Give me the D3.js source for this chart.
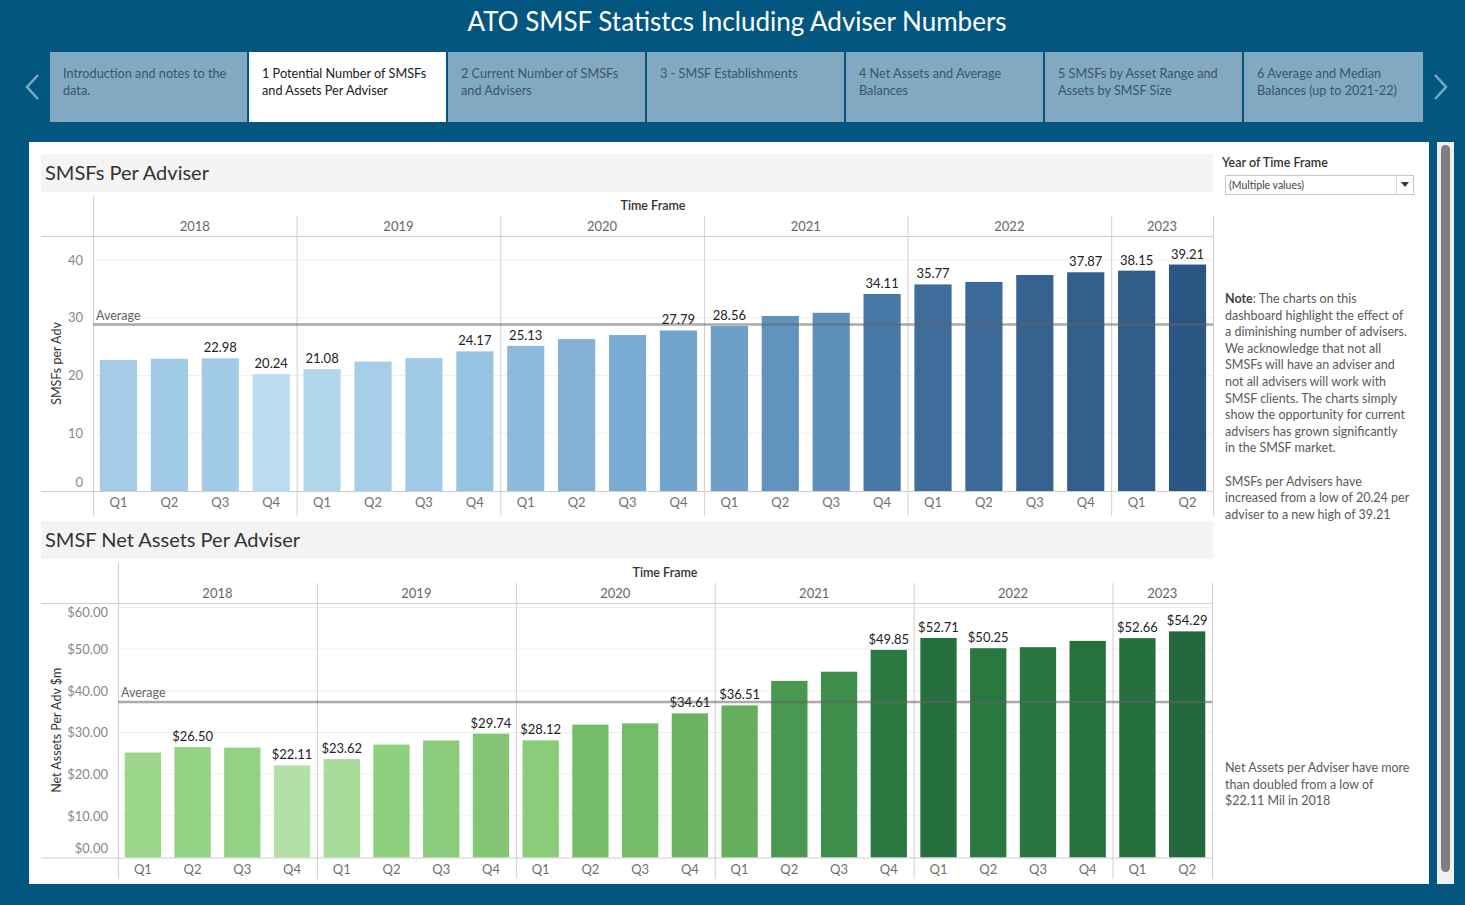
<!DOCTYPE html>
<html>
<head>
<meta charset="utf-8">
<script src="https://cdn.jsdelivr.net/npm/d3@7"></script>
<style>
  html,body{margin:0;padding:0;background:#03567f;}
  svg{display:block;font-family:Lato,"Open Sans",sans-serif;}
</style>
</head>
<body>
<svg id="chart" width="1465" height="905"></svg>
<script>
// ---------------- DATA ----------------
const periodYears = ['2018','2018','2018','2018','2019','2019','2019','2019','2020','2020','2020','2020',
                     '2021','2021','2021','2021','2022','2022','2022','2022','2023','2023'];
const periodQuarters = ['Q1','Q2','Q3','Q4','Q1','Q2','Q3','Q4','Q1','Q2','Q3','Q4',
                        'Q1','Q2','Q3','Q4','Q1','Q2','Q3','Q4','Q1','Q2'];
const yearLabels = ['2018','2019','2020','2021','2022','2023'];
const smsfsPerAdviser = [22.70,22.90,22.98,20.24, 21.08,22.40,23.00,24.17, 25.13,26.30,27.00,27.79,
                         28.56,30.30,30.85,34.11, 35.77,36.20,37.40,37.87, 38.15,39.21];
const netAssetsPerAdviser = [25.20,26.50,26.40,22.11, 23.62,27.10,28.10,29.74, 28.12,31.90,32.20,34.61,
                             36.51,42.40,44.60,49.85, 52.71,50.25,50.50,52.00, 52.66,54.29];
const smsfLabelShown =   [0,0,1,1, 1,0,0,1, 1,0,0,1, 1,0,0,1, 1,0,0,1, 1,1];
const assetsLabelShown = [0,1,0,1, 1,0,0,1, 1,0,0,1, 1,0,0,1, 1,1,0,0, 1,1];
const smsfTicks = [0,10,20,30,40];
const assetTicks = [0,10,20,30,40,50,60];
const tabLabels = [
  ['Introduction and notes to the','data.'],
  ['1 Potential Number of SMSFs','and Assets Per Adviser'],
  ['2 Current Number of SMSFs','and Advisers'],
  ['3 - SMSF Establishments'],
  ['4 Net Assets and Average','Balances'],
  ['5 SMSFs by Asset Range and','Assets by SMSF Size'],
  ['6 Average and Median','Balances (up to 2021-22)']
];
const noteLines = ['The charts on this','dashboard highlight the effect of','a diminishing number of advisers.',
  'We acknowledge that not all','SMSFs will have an adviser and','not all advisers will work with',
  'SMSF clients. The charts simply','show the opportunity for current','advisers has grown significantly',
  'in the SMSF market.','','SMSFs per Advisers have','increased from a low of 20.24 per','adviser to a new high of 39.21'];
const assetNoteLines = ['Net Assets per Adviser have more','than doubled from a low of','$22.11 Mil in 2018'];

// ---------------- PAGE ----------------
const svg = d3.select('#chart');
svg.append('rect').attr('width',1465).attr('height',905).attr('fill','#03567f');
svg.append('text').attr('x',737).attr('y',31).attr('text-anchor','middle')
  .attr('fill','#fff').attr('font-size',26).text('ATO SMSF Statistcs Including Adviser Numbers');

// tabs
const tabX = [50,249,448,647,846,1045,1244];
const tabW = [197,197,197,197,197,197,179];
tabLabels.forEach((lines,i)=>{
  const sel = i===1;
  svg.append('rect').attr('x',tabX[i]).attr('y',52).attr('width',tabW[i]).attr('height',70)
    .attr('fill', sel ? '#ffffff' : '#81a9c1');
  lines.forEach((t,j)=>{
    svg.append('text').attr('x',tabX[i]+13).attr('y',78+j*17).attr('font-size',12.7)
      .attr('fill', sel ? '#1a1a1a' : '#3f5566').text(t);
  });
});
svg.append('path').attr('d','M38,75 L27,87 L38,99').attr('fill','none').attr('stroke','#7fa7c0').attr('stroke-width',2.5);
svg.append('path').attr('d','M1435,75 L1446,87 L1435,99').attr('fill','none').attr('stroke','#7fa7c0').attr('stroke-width',2.5);

// main panel
svg.append('rect').attr('x',29).attr('y',142).attr('width',1400).attr('height',742).attr('fill','#fff');
// scrollbar
svg.append('rect').attr('x',1437).attr('y',142).attr('width',17).attr('height',742).attr('fill','#f0f0f0');
svg.append('rect').attr('x',1441).attr('y',145).attr('width',9).attr('height',727).attr('rx',4.5).attr('fill','#7f7f7f');

// right panel
svg.append('text').attr('x',1222).attr('y',167).attr('font-size',12.5).attr('font-weight',600).attr('fill','#333').text('Year of Time Frame');
svg.append('rect').attr('x',1225.5).attr('y',175.5).attr('width',188).attr('height',19).attr('fill','#fff').attr('stroke','#c8c8c8');
svg.append('line').attr('x1',1396.5).attr('x2',1396.5).attr('y1',176).attr('y2',194).attr('stroke','#dcdcdc');
svg.append('text').attr('x',1229).attr('y',189).attr('font-size',10.5).attr('fill','#444').text('(Multiple values)');
svg.append('path').attr('d','M1401,182 L1409,182 L1405,187 Z').attr('fill','#333');

const note = svg.append('g').attr('font-size',12.5).attr('fill','#5a5a5a');
const nt0 = note.append('text').attr('x',1225).attr('y',303);
nt0.append('tspan').attr('font-weight',700).attr('fill','#444').text('Note');
nt0.append('tspan').text(': ' + noteLines[0]);
noteLines.slice(1).forEach((t,i)=>{
  note.append('text').attr('x',1225).attr('y',303+(i+1)*16.6).text(t);
});
assetNoteLines.forEach((t,i)=>{
  note.append('text').attr('x',1225).attr('y',772+i*16.6).text(t);
});

// ---------------- CHARTS ----------------
const keys = periodYears.map((y,i)=>y+'-'+periodQuarters[i]);

function drawChart(o){
  const g = svg.append('g');
  // title band
  g.append('rect').attr('x',41).attr('y',o.bandTop).attr('width',1172).attr('height',38).attr('fill','#f4f4f4');
  g.append('text').attr('x',45).attr('y',o.bandTop+26).attr('font-size',20).attr('fill','#333').text(o.title);

  const x = d3.scaleBand().domain(keys).range([o.left,o.right]).paddingInner(0.27).paddingOuter(0.135);
  const y = d3.scaleLinear().domain([0,o.ymax]).range([o.base,o.top]);
  const step = x.step();

  const color = d3.scaleLinear().domain(o.colorDomain).range(o.colorRange).interpolate(d3.interpolateRgb);
  const rows = o.values.map((v,i)=>({key:keys[i], v, show:!!o.shown[i]}));

  // gridlines
  g.selectAll('.grid').data(o.ticks.filter(t=>t>0)).join('line')
    .attr('x1',o.left).attr('x2',o.right).attr('y1',d=>y(d)).attr('y2',d=>y(d))
    .attr('stroke','#efefef').attr('stroke-width',1);

  // header
  g.append('text').attr('x',o.tfX).attr('y',o.top-26).attr('text-anchor','middle').attr('font-size',12.5)
    .attr('font-weight',600).attr('fill','#333').text('Time Frame');

  // year groups
  let start = 0;
  const yearPos = yearLabels.map(yr=>{
    const n = periodYears.filter(v=>v===yr).length;
    const x0 = o.left + start*step, x1 = o.left + (start+n)*step;
    start += n;
    return {yr,x0,x1};
  });
  g.selectAll('.yl').data(yearPos).join('text')
    .attr('x',d=>(d.x0+d.x1)/2).attr('y',o.top-5).attr('text-anchor','middle')
    .attr('font-size',13).attr('fill','#666').text(d=>d.yr);

  // bars
  g.selectAll('.bar').data(rows).join('rect')
    .attr('x',d=>x(d.key)).attr('width',x.bandwidth())
    .attr('y',d=>y(d.v)).attr('height',d=>o.base-y(d.v)).attr('fill',d=>color(d.v));

  // structural lines
  const lineC = '#cfcfcf';
  g.append('line').attr('x1',41).attr('x2',o.right).attr('y1',o.top+0.5).attr('y2',o.top+0.5).attr('stroke',lineC);
  g.append('line').attr('x1',41).attr('x2',o.right).attr('y1',o.base+0.5).attr('y2',o.base+0.5).attr('stroke',lineC);
  g.append('line').attr('x1',o.left+0.5).attr('x2',o.left+0.5).attr('y1',o.top-40).attr('y2',o.bottom).attr('stroke',lineC);
  yearPos.forEach(d=>{
    g.append('line').attr('x1',d.x1+0.5).attr('x2',d.x1+0.5).attr('y1',o.top-20).attr('y2',o.bottom).attr('stroke',lineC);
  });
  // tiny quarter ticks
  keys.forEach((k,i)=>{
    if(i>0 && periodQuarters[i]!=='Q1'){
      const xx = o.left + i*step;
      g.append('line').attr('x1',xx).attr('x2',xx).attr('y1',o.base+1).attr('y2',o.base+4).attr('stroke','#eee');
    }
  });

  // quarter labels
  g.selectAll('.ql').data(rows).join('text')
    .attr('x',d=>x(d.key)+x.bandwidth()/2).attr('y',o.base+16).attr('text-anchor','middle')
    .attr('font-size',13).attr('fill','#707070').text((d,i)=>periodQuarters[i]);

  // y axis
  const ax = g.append('g').attr('transform',`translate(${o.left-7},0)`)
    .call(d3.axisLeft(y).tickValues(o.ticks).tickSize(0).tickFormat(o.fmt));
  ax.select('.domain').remove();
  ax.selectAll('text').attr('font-size',13).attr('fill','#888').attr('font-family','Lato,"Open Sans",sans-serif')
    .attr('dy',d=> d===0 ? '-0.35em' : (d===o.ticks[o.ticks.length-1] && o.shiftTop ? '0.7em' : '0.32em'));

  g.append('text').attr('transform',`translate(61,${(o.top+o.base)/2}) rotate(-90)`)
    .attr('text-anchor','middle').attr('font-size',12.5).attr('fill','#333').text(o.axisTitle);

  // average line
  const avg = d3.mean(o.values);
  g.append('line').attr('x1',o.left).attr('x2',o.right).attr('y1',y(avg)).attr('y2',y(avg))
    .attr('stroke','rgba(100,100,100,0.55)').attr('stroke-width',2.5);
  g.append('text').attr('x',o.left+3).attr('y',y(avg)-5).attr('font-size',12.5).attr('fill','#666').text('Average');

  // data labels
  g.selectAll('.dl').data(rows.filter(d=>d.show)).join('text')
    .attr('x',d=>x(d.key)+x.bandwidth()/2).attr('y',d=>y(d.v)-6)
    .attr('text-anchor','middle').attr('font-size',13).attr('fill','#222')
    .text(d=>o.labelFmt(d.v));
}

drawChart({
  title:'SMSFs Per Adviser', bandTop:154,
  left:93, right:1213, top:236, base:491, bottom:516, ymax:44.15, tfX:653,
  values:smsfsPerAdviser, shown:smsfLabelShown, ticks:smsfTicks,
  fmt:d3.format('d'), labelFmt:d3.format('.2f'), axisTitle:'SMSFs per Adv', shiftTop:false,
  colorDomain:[20.24,24,27.8,34.1,39.21],
  colorRange:['#badcf0','#98c4e3','#72a4cd','#4878a6','#2b5683']
});

drawChart({
  title:'SMSF Net Assets Per Adviser', bandTop:521,
  left:118, right:1212, top:603, base:857.5, bottom:879, ymax:61.1, tfX:665,
  values:netAssetsPerAdviser, shown:assetsLabelShown, ticks:assetTicks,
  fmt:d=>'$'+d3.format('.2f')(d), labelFmt:d=>'$'+d3.format('.2f')(d), axisTitle:'Net Assets Per Adv $m', shiftTop:true,
  colorDomain:[22.11,26,32,37,44.6,50,54.29],
  colorRange:['#b3e0a6','#95d484','#76bd69','#62ac5c','#3f8f4c','#2a7840','#24693d']
});
</script>
</body>
</html>
